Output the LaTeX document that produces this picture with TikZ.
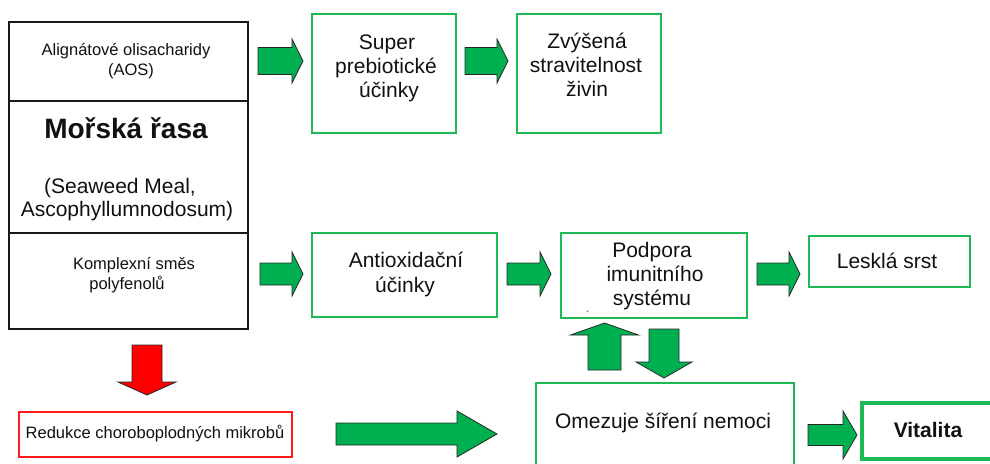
\documentclass[tikz,border=0pt]{standalone}
\usepackage{fontspec}
\setmainfont{Liberation Sans}
\definecolor{gfill}{HTML}{00B050}
\definecolor{gline}{HTML}{1DB954}
\definecolor{rfill}{HTML}{FF0000}
\definecolor{rline}{HTML}{FF1A1A}
\definecolor{txt}{HTML}{111111}
\newcommand\fs{\fontsize{16.5}{20}\selectfont}
\newcommand\fm{\fontsize{21}{24}\selectfont}
\newcommand\fb{\fontsize{28}{32}\selectfont\bfseries}
\newcommand\fv{\fontsize{21}{24}\selectfont\bfseries}
% horizontal block arrow: style, x0, xhead, xtip, ycenter, half shaft, half head
\newcommand\rarr[7]{\filldraw[#1] ({#2},{#5-#6}) -- ({#3},{#5-#6}) -- ({#3},{#5-#7}) -- ({#4},{#5}) -- ({#3},{#5+#7}) -- ({#3},{#5+#6}) -- ({#2},{#5+#6}) -- cycle;}
% vertical block arrow: style, xcenter, y0, yhead, ytip, half shaft, half head
\newcommand\varr[7]{\filldraw[#1] ({#2-#6},{#3}) -- ({#2-#6},{#4}) -- ({#2-#7},{#4}) -- ({#2},{#5}) -- ({#2+#7},{#4}) -- ({#2+#6},{#4}) -- ({#2+#6},{#3}) -- cycle;}
\begin{document}
\begin{tikzpicture}[x=1pt,y=-1pt,
  gbox/.style={draw=gline, line width=1.5pt, inner sep=0pt, outer sep=0pt, anchor=north west},
  kbox/.style={draw=black!90, line width=1.6pt, inner sep=0pt, outer sep=0pt, anchor=north west},
  rbox/.style={draw=rline, line width=1.5pt, inner sep=0pt, outer sep=0pt, anchor=north west},
  tx/.style={text=txt, inner sep=0pt, anchor=base},
  garrow/.style={fill=gfill, draw=black!85, line width=0.8pt, line join=miter},
  rarrow/.style={fill=rfill, draw=black!85, line width=0.8pt, line join=miter}]
\useasboundingbox (0,0) rectangle (990,463);
\clip (0,0) rectangle (990,463);
\fill[white] (0,0) rectangle (990,463);

% left composite box
\node[kbox, minimum width=239pt, minimum height=79pt] (aos) at (9,22) {};
\node[kbox, minimum width=239pt, minimum height=132pt] (rasa) at (9,101) {};
\node[kbox, minimum width=239pt, minimum height=96pt] (poly) at (9,233) {};
\node[tx, font=\fs] (t1) at (126,55) {Alignátové olisacharidy};
\node[tx, font=\fs] (t2) at (131,75) {(AOS)};
\node[tx, font=\fb] (t3) at (126,138) {Mořská řasa};
\node[tx, font=\fm] (t4) at (120,193) {(Seaweed Meal,};
\node[tx, font=\fm] (t5) at (127,216) {Ascophyllumnodosum)};
\node[tx, font=\fs] (t6) at (134,269) {Komplexní směs};
\node[tx, font=\fs] (t7) at (127,289) {polyfenolů};

% top row
\node[gbox, minimum width=144pt, minimum height=119pt] (super) at (312,14) {};
\node[tx, font=\fm] (t8) at (387,49) {Super};
\node[tx, font=\fm] (t9) at (386,73) {prebiotické};
\node[tx, font=\fm] (t10) at (389,97) {účinky};
\node[gbox, minimum width=144pt, minimum height=119pt] (zvys) at (517,14) {};
\node[tx, font=\fm] (t11) at (587,48) {Zvýšená};
\node[tx, font=\fm] (t12) at (586,72) {stravitelnost};
\node[tx, font=\fm] (t13) at (587,96) {živin};

% middle row
\node[gbox, minimum width=185pt, minimum height=84pt] (anti) at (312,233) {};
\node[tx, font=\fm] (t14) at (406,267) {Antioxidační};
\node[tx, font=\fm] (t15) at (405,292) {účinky};
\node[gbox, minimum width=186pt, minimum height=85pt] (podp) at (561,233) {};
\node[tx, font=\fm] (t16) at (652,257) {Podpora};
\node[tx, font=\fm] (t17) at (655,281) {imunitního};
\node[tx, font=\fm] (t18) at (652,305) {systému};
\node[tx, font=\fontsize{10}{10}\selectfont] (t19) at (588,318) {´};
\node[gbox, minimum width=161pt, minimum height=51pt] (lesk) at (809,236) {};
\node[tx, font=\fm] (t20) at (887,268) {Lesklá srst};

% bottom row
\node[rbox, minimum width=273pt, minimum height=45pt] (redu) at (19,412) {};
\node[tx, font=\fs] (t21) at (155,438) {Redukce choroboplodných mikrobů};
\node[gbox, minimum width=258pt, minimum height=100pt] (omez) at (536,383) {};
\node[tx, font=\fm] (t22) at (663,428) {Omezuje šíření nemoci};
\node[gbox, line width=3.5pt, minimum width=150pt, minimum height=56pt] (vital) at (862,403) {};
\node[tx, font=\fv] (t23) at (928,437) {Vitalita};

% block arrows
\rarr{garrow}{258}{292}{303}{61}{13.5}{22}
\rarr{garrow}{465}{497}{508}{61}{13.5}{22}
\rarr{garrow}{260}{292}{303}{274}{11}{22}
\rarr{garrow}{507}{540}{551}{274}{11}{22}
\rarr{garrow}{757}{789}{800}{274}{11}{22}
\rarr{garrow}{336}{457}{497}{434}{11}{23}
\rarr{garrow}{808}{843}{857}{435}{10.5}{24}
\varr{garrow}{604.5}{370}{335}{323}{16.5}{34}
\varr{garrow}{664}{329}{362}{378}{15}{28}
\varr{rarrow}{147}{345}{382}{395}{15}{29}
\end{tikzpicture}
\end{document}
